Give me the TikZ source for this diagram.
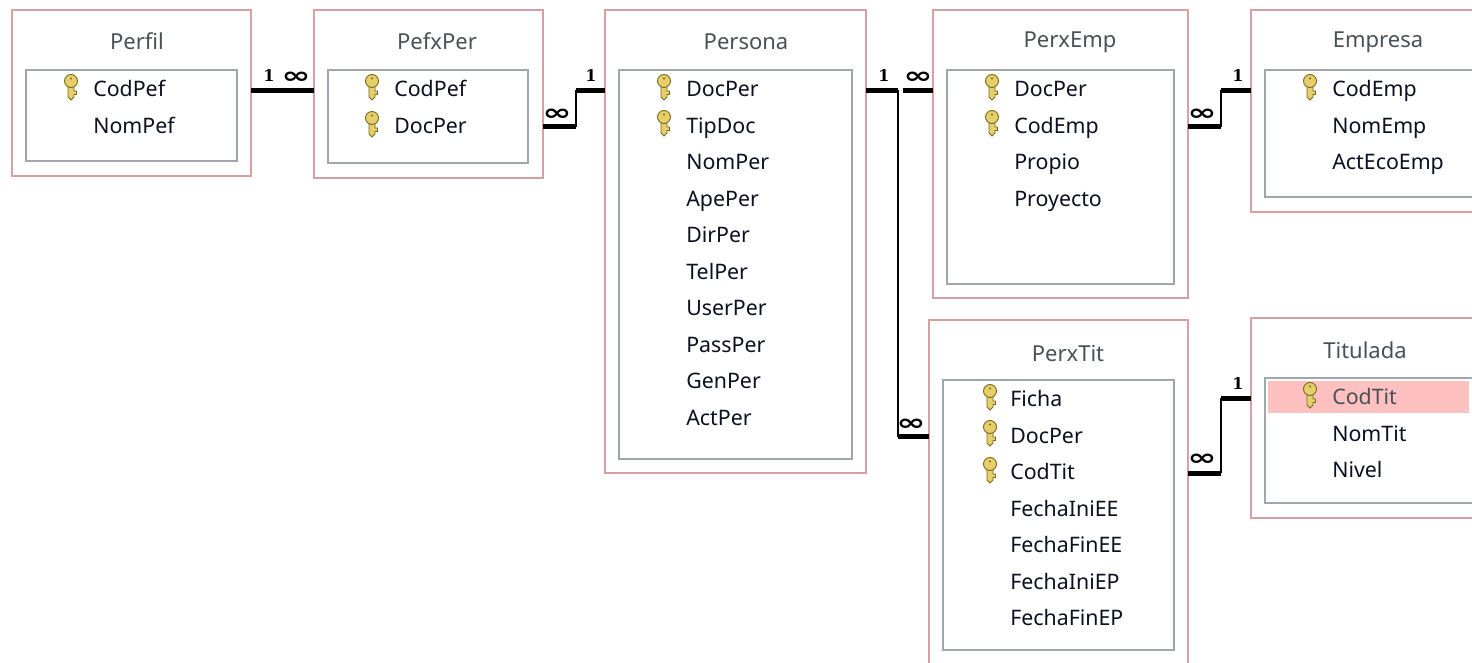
\documentclass[tikz,border=0pt]{standalone}
\usepackage{fontspec}
\usepackage{tikz}
\usetikzlibrary{fit}
\setmainfont{Noto Sans}
\newfontfamily\relfont{DejaVu Sans}
\newfontfamily\onefont{DejaVu Serif}
\newcommand{\manysign}{\scalebox{1.3}[0.85]{∞}}
\definecolor{outerline}{HTML}{D8A0A2}
\definecolor{innerline}{HTML}{A0A6AA}
\definecolor{titletext}{HTML}{4A5058}
\definecolor{fieldtext}{HTML}{0C1020}
\definecolor{selrow}{HTML}{FFC0C0}
\definecolor{keygold}{HTML}{E6CF6A}
\definecolor{keyedge}{HTML}{7A6A20}

\begin{document}
\begin{tikzpicture}[x=0.75pt, y=-0.75pt, node distance=27.4pt,
  tablebox/.style = {draw=outerline, line width=1.5pt, inner sep=0pt, outer sep=0pt},
  fieldbox/.style = {draw=innerline, line width=1.5pt, inner sep=0pt, outer sep=0pt},
  title/.style = {text=titletext, font=\fontsize{16.5}{16.5}\selectfont},
  field/.style = {text=fieldtext, font=\fontsize{16}{16}\selectfont, text width=112pt, align=left,
    text height=12pt, text depth=2pt, inner sep=0pt},
  stub/.style = {line width=3.75pt},
  link/.style = {line width=1.5pt},
  one/.style = {font=\onefont\bfseries\fontsize{12}{12}\selectfont, inner sep=0pt},
  many/.style = {font=\relfont\bfseries\fontsize{20}{20}\selectfont, inner sep=0pt, yshift=-1.5pt},
  keyicon/.pic = {
    \draw[keyedge, fill=keygold, line width=0.7pt] (-3,0) -- (-3,11) -- (0,14) -- (3,11) -- (3,8.5) -- (5.5,8.5) -- (5.5,5) -- (3,5) -- (3,0) -- cycle;
    \draw[keyedge, fill=keygold, line width=0.7pt] (0,-5) circle (6.5);
    \fill[keyedge] (0,-7.5) circle (1.2);
  }]
\clip (0,0) rectangle (1472,662);
\fill[white] (0,0) rectangle (1472,662);

% tables
\node[tablebox, fit={(12,10) (251,176)}] (Perfil) {};
\node[fieldbox, fit={(26,70) (237,161)}] (PerfilF) {};
\node[tablebox, fit={(314,10) (543,178)}] (PefxPer) {};
\node[fieldbox, fit={(328,70) (528,163)}] (PefxPerF) {};
\node[tablebox, fit={(605,10) (866,473)}] (Persona) {};
\node[fieldbox, fit={(619,70) (852,459)}] (PersonaF) {};
\node[tablebox, fit={(933,10) (1188,298)}] (PerxEmp) {};
\node[fieldbox, fit={(947,70) (1174,284)}] (PerxEmpF) {};
\node[tablebox, fit={(1251,10) (1490,212)}] (Empresa) {};
\node[fieldbox, fit={(1265,70) (1480,197)}] (EmpresaF) {};
\node[tablebox, fit={(929,320) (1188,680)}] (PerxTit) {};
\node[fieldbox, fit={(943,380) (1174,650)}] (PerxTitF) {};
\node[tablebox, fit={(1251,318) (1490,518)}] (Titulada) {};
\node[fieldbox, fit={(1265,378) (1480,503)}] (TituladaF) {};
\fill[selrow] (1268,381) rectangle (1469,413);

% titles
\node[title] (t1) at (137,41) {Perfil};
\node[title] (t2) at (437,41) {PefxPer};
\node[title] (t3) at (746,42) {Persona};
\node[title] (t4) at (1070,42) {PerxEmp};
\node[title] (t5) at (1378,42) {Empresa};
\node[title] (t6) at (1068,353) {PerxTit};
\node[title] (t7) at (1365,350) {Titulada};

% fields
\node[field] (a1) at (168,90) {CodPef};
\node[field] (a2) [below of=a1] {NomPef};

\node[field] (b1) at (469,90) {CodPef};
\node[field] (b2) [below of=b1] {DocPer};

\node[field] (c1) at (761,90) {DocPer};
\node[field] (c2) [below of=c1] {TipDoc};
\node[field] (c3) [below of=c2] {NomPer};
\node[field] (c4) [below of=c3] {ApePer};
\node[field] (c5) [below of=c4] {DirPer};
\node[field] (c6) [below of=c5] {TelPer};
\node[field] (c7) [below of=c6] {UserPer};
\node[field] (c8) [below of=c7] {PassPer};
\node[field] (c9) [below of=c8] {GenPer};
\node[field] (c10) [below of=c9] {ActPer};

\node[field] (d1) at (1089,90) {DocPer};
\node[field] (d2) [below of=d1] {CodEmp};
\node[field] (d3) [below of=d2] {Propio};
\node[field] (d4) [below of=d3] {Proyecto};

\node[field] (e1) at (1407,90) {CodEmp};
\node[field] (e2) [below of=e1] {NomEmp};
\node[field] (e3) [below of=e2] {ActEcoEmp};

\node[field] (f1) at (1085,400) {Ficha};
\node[field] (f2) [below of=f1] {DocPer};
\node[field] (f3) [below of=f2] {CodTit};
\node[field] (f4) [below of=f3] {FechaIniEE};
\node[field] (f5) [below of=f4] {FechaFinEE};
\node[field] (f6) [below of=f5] {FechaIniEP};
\node[field] (f7) [below of=f6] {FechaFinEP};

\node[field, text=titletext] (g1) at (1407,398) {CodTit};
\node[field] (g2) [below of=g1] {NomTit};
\node[field] (g3) [below of=g2] {Nivel};

% keys
\pic at (71,86) {keyicon};
\pic at (372,86) {keyicon};
\pic at (372,123) {keyicon};
\pic at (664,86) {keyicon};
\pic at (664,122) {keyicon};
\pic at (992,86) {keyicon};
\pic at (992,122) {keyicon};
\pic at (1310,86) {keyicon};
\pic at (990,396) {keyicon};
\pic at (990,432) {keyicon};
\pic at (990,469) {keyicon};
\pic at (1310,394) {keyicon};

% bends
\coordinate (k1) at (576,108);
\coordinate (k2) at (898,260);
\coordinate (k3) at (1221,108);
\coordinate (k4) at (1221,430);
\coordinate (k5) at (903,90);

% relations
\draw[stub] (Perfil.east |- a1) -- (PefxPer.west |- b1);
\draw[stub] (PefxPer.east |- b2) -- (k1 |- b2);
\draw[link] (k1 |- b2) -- (k1 |- c1);
\draw[stub] (k1 |- c1) -- (Persona.west |- c1);
\draw[stub] (Persona.east |- c1) -- (k2 |- c1);
\draw[stub] (k5 |- d1) -- (PerxEmp.west |- d1);
\draw[link] (k2 |- c1) -- (k2 |- f2);
\draw[stub] (k2 |- f2) -- (PerxTit.west |- f2);
\draw[stub] (PerxEmp.east |- d2) -- (k3 |- d2);
\draw[link] (k3 |- d2) -- (k3 |- e1);
\draw[stub] (k3 |- e1) -- (Empresa.west |- e1);
\draw[stub] (PerxTit.east |- f3) -- (k4 |- f3);
\draw[link] (k4 |- f3) -- (k4 |- g1);
\draw[stub] (k4 |- g1) -- (Titulada.west |- g1);

% cardinalities
\node[one] (n1) at (269,76) {1};
\node[many] (n2) at (296,76) {\manysign};
\node[many] (n3) at (557,113) {\manysign};
\node[one] (n4) at (591,76) {1};
\node[one] (n5) at (884,76) {1};
\node[many] (n6) at (918,76) {\manysign};
\node[many] (n7) at (911,423) {\manysign};
\node[many] (n8) at (1202,113) {\manysign};
\node[one] (n9) at (1238,76) {1};
\node[many] (n10) at (1202,458) {\manysign};
\node[one] (n11) at (1238,384) {1};
\end{tikzpicture}
\end{document}
